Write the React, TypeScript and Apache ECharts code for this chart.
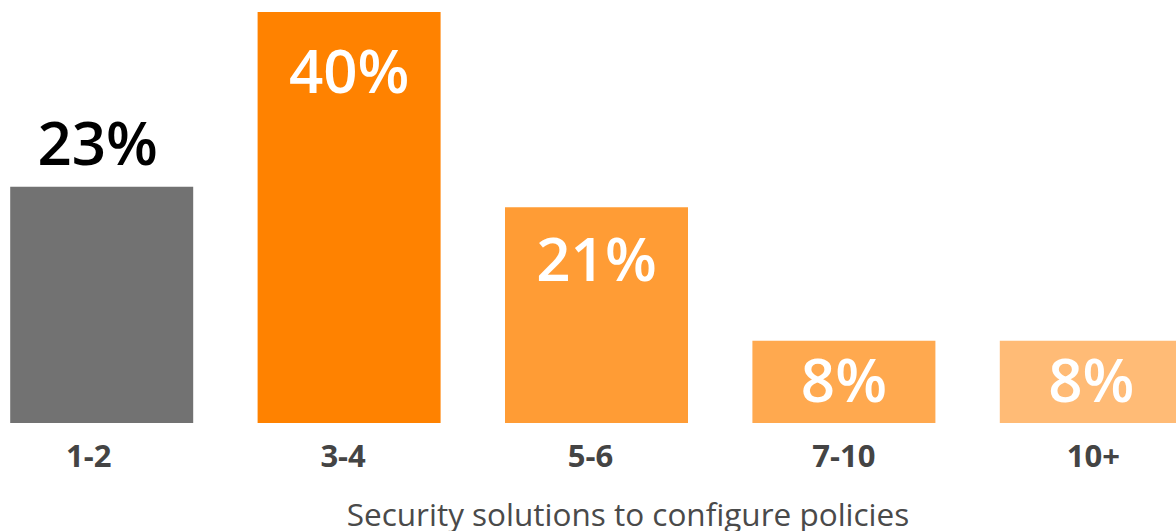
import React, { useEffect, useRef } from "react";
import * as echarts from "echarts";

const categories = ["1-2", "3-4", "5-6", "7-10", "10+"];
const values = [23, 40, 21, 8, 8];
const barColors = ["#727272", "#FF8200", "#FF9C35", "#FFA94F", "#FFBB76"];
const axisTitle = "Security solutions to configure policies";

const labelShift = [-13, -6, -6, 0, 2];

const FONT = "'Open Sans', 'Noto Sans', sans-serif";
const SHIFT = 22;

export default function App() {
  const ref = useRef<HTMLDivElement>(null);
  useEffect(() => {
    document.body.style.margin = "0";
    document.body.style.overflow = "hidden";
    if (!ref.current) return;
    const chart = echarts.init(ref.current, undefined, { renderer: "svg" });
    const labelCfg = (i: number) => {
      if (i === 0) return { position: "top", distance: 15, offset: [-4, 0], color: "#000000" };
      if (values[i] >= 15) return { position: "insideTop", distance: i === 1 ? 28 : 21, color: "#ffffff" };
      return { position: "inside", offset: [0, -3], color: "#ffffff" };
    };
    chart.setOption({
      animation: false,
      grid: { left: 0, right: 0, top: 12, bottom: 108, containLabel: false },
      xAxis: {
        type: "category",
        data: categories.map((c, i) => {
          const s = labelShift[i];
          return {
            value: c,
            textStyle: { padding: s < 0 ? [0, -2 * s, 0, 0] : [0, 0, 0, 2 * s] },
          };
        }),
        axisLine: { show: false },
        axisTick: { show: false },
        axisLabel: {
          margin: 16,
          fontSize: 31,
          fontWeight: "bold",
          color: "#444444",
          fontFamily: FONT,
        },
      },
      yAxis: { type: "value", min: 0, max: 40, show: false, splitLine: { show: false } },
      series: [
        {
          type: "bar",
          barWidth: 183,
          data: values.map((v, i) => ({
            value: v,
            itemStyle: { color: barColors[i] },
            label: labelCfg(i),
          })),
          label: {
            show: true,
            formatter: "{c}%",
            fontSize: 60,
            fontWeight: 600,
            fontFamily: FONT,
          },
        },
      ],
      graphic: [
        {
          type: "text",
          x: 628 + SHIFT,
          y: 513,
          style: {
            text: axisTitle,
            align: "center",
            verticalAlign: "middle",
            fontSize: 31.5,
            fontFamily: FONT,
            fill: "#4a4a4a",
          },
        },
      ],
    });
    return () => chart.dispose();
  }, []);
  return (
    <div
      ref={ref}
      style={{ width: 1237, height: 531, marginLeft: -SHIFT }}
    />
  );
}
